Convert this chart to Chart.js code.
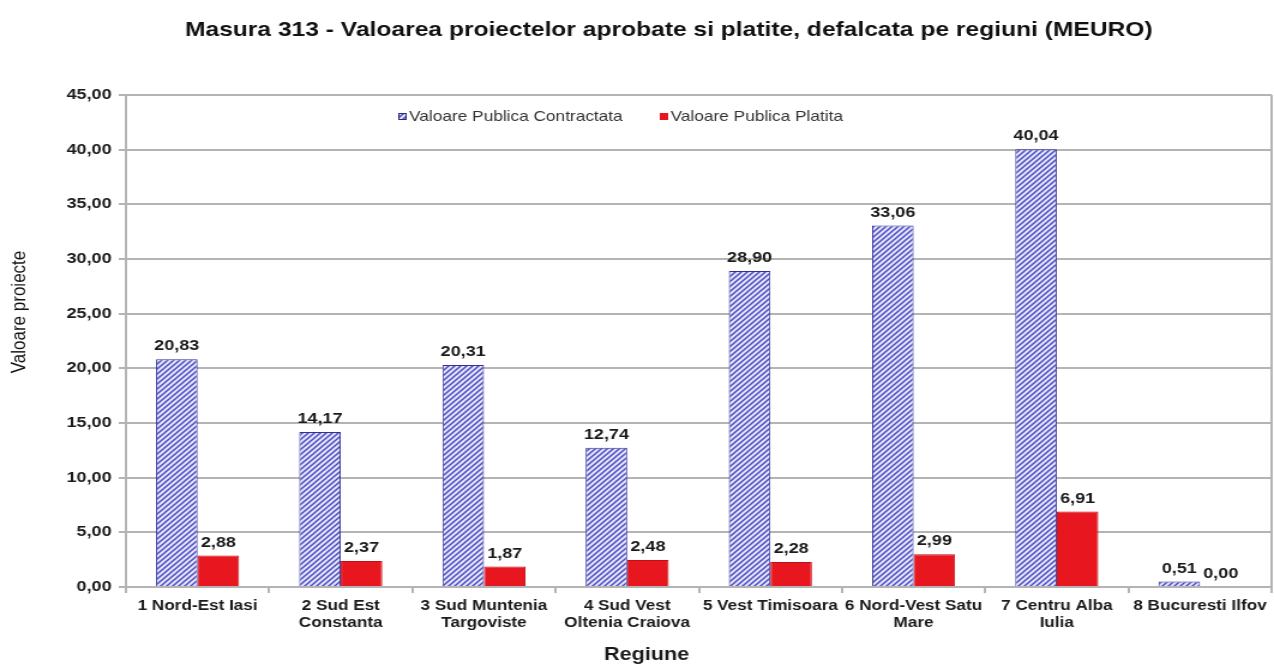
<!DOCTYPE html>
<html>
<head>
<meta charset="utf-8">
<script src="https://cdn.jsdelivr.net/npm/chart.js@4.4.1/dist/chart.umd.min.js"></script>
<style>
html,body{margin:0;padding:0;background:#fff;overflow:hidden}
/* chart is laid out at 1062 wide and widened to the 1274 page */
#wrap{width:1062px;height:666px;transform:scaleX(1.19962);transform-origin:0 0}
</style>
</head>
<body>
<div id="wrap"><canvas id="c" width="1062" height="666"></canvas></div>
<script>
const REGIUNI=[['1 Nord-Est Iasi'],['2 Sud Est','Constanta'],['3 Sud Muntenia','Targoviste'],['4 Sud Vest','Oltenia Craiova'],['5 Vest Timisoara'],['6 Nord-Vest Satu','Mare'],['7 Centru Alba','Iulia'],['8 Bucuresti Ilfov']];
const CONTRACTATA=[20.83,14.17,20.31,12.74,28.90,33.06,40.04,0.51];
const PLATITA=[2.88,2.37,1.87,2.48,2.28,2.99,6.91,0.00];
const Y_MIN=0, Y_MAX=45, Y_STEP=5;

const FONT="'Liberation Sans', Arial, sans-serif";
const GRID='#b4b4b4';
const INK='#1a1a1a';
const fmt=v=>v.toFixed(2).replace('.',',');

const cv=document.getElementById('c');
const ctx=cv.getContext('2d');

// diagonal hatch for the contracted value bars
function hatch(){
  const s=5, t=document.createElement('canvas'); t.width=t.height=s;
  const g=t.getContext('2d');
  g.fillStyle='#e4e4fb'; g.fillRect(0,0,s,s);
  g.strokeStyle='#4c4cc2'; g.lineWidth=1.5;
  g.beginPath();
  g.moveTo(0,s); g.lineTo(s,0);
  g.moveTo(-1,1); g.lineTo(1,-1);
  g.moveTo(s-1,s+1); g.lineTo(s+1,s-1);
  g.stroke();
  return ctx.createPattern(t,'repeat');
}
const HATCH=hatch();

const decor={
  id:'decor',
  beforeDatasetsDraw(ch){
    const a=ch.chartArea, c=ch.ctx;
    c.save();
    c.strokeStyle=GRID; c.lineWidth=2;
    c.beginPath(); c.moveTo(a.right,a.top); c.lineTo(a.right,a.bottom); c.stroke();
    c.restore();
  },
  afterDatasetsDraw(ch){
    const a=ch.chartArea, c=ch.ctx;
    c.save();
    // values above bars
    c.font='bold 15px '+FONT; c.fillStyle=INK;
    c.textAlign='center'; c.textBaseline='middle';
    ch.data.datasets.forEach((ds,i)=>{
      ch.getDatasetMeta(i).data.forEach((bar,j)=>{
        c.fillText(fmt(ds.data[j]),bar.x,bar.y-13);
      });
    });
    // title
    c.font='bold 20.5px '+FONT; c.fillStyle='#111';
    c.fillText('Masura 313 - Valoarea proiectelor aprobate si platite, defalcata pe regiuni (MEURO)',557.5,30);
    // axis titles
    c.font='bold 18px '+FONT; c.fillStyle=INK;
    c.fillText('Regiune',539,655);
    c.save();
    c.translate(16,312); c.rotate(-Math.PI/2);
    c.font='17px '+FONT; c.fillStyle='#111';
    c.fillText('Valoare proiecte',0,0);
    c.restore();
    // legend
    const ly=117, lx=a.left+227;
    c.fillStyle=HATCH; c.fillRect(lx,ly-4,7,7);
    c.strokeStyle='#2a2a7a'; c.lineWidth=1; c.strokeRect(lx+0.5,ly-3.5,6,6);
    c.fillStyle='#e8161e'; c.fillRect(lx+218,ly-4,7,7);
    c.font='14.4px '+FONT; c.fillStyle='#333'; c.textAlign='left';
    c.fillText(ch.data.datasets[0].label,lx+9,ly);
    c.fillText(ch.data.datasets[1].label,lx+227,ly);
    c.restore();
  }
};

new Chart(cv,{
  type:'bar',
  data:{
    labels:REGIUNI,
    datasets:[
      {label:'Valoare Publica Contractata',data:CONTRACTATA,backgroundColor:HATCH,borderColor:'#30309a',borderWidth:1,
       categoryPercentage:0.58,barPercentage:1},
      {label:'Valoare Publica Platita',data:PLATITA,backgroundColor:'#e8161e',borderColor:'#c40f17',borderWidth:1,
       categoryPercentage:0.58,barPercentage:1}
    ]
  },
  options:{
    responsive:false,animation:false,
    layout:{padding:{top:95,right:2,left:0,bottom:0}},
    plugins:{legend:{display:false},title:{display:false},tooltip:{enabled:false}},
    scales:{
      x:{
        grid:{offset:true,drawOnChartArea:false,drawTicks:true,tickLength:6,color:GRID,lineWidth:2},
        border:{color:GRID,width:2},
        ticks:{font:{family:FONT,size:14.3,weight:'bold',lineHeight:1.18},color:INK,padding:5,maxRotation:0,autoSkip:false},
        afterFit(s){s.height=79;}
      },
      y:{
        min:Y_MIN,max:Y_MAX,
        grid:{color:GRID,lineWidth:2,tickLength:6},
        border:{color:GRID,width:2},
        ticks:{stepSize:Y_STEP,font:{family:FONT,size:15,weight:'bold'},color:INK,padding:6,callback:v=>fmt(v)},
        afterFit(s){s.width=105;}
      }
    }
  },
  plugins:[decor]
});
</script>
</body>
</html>
